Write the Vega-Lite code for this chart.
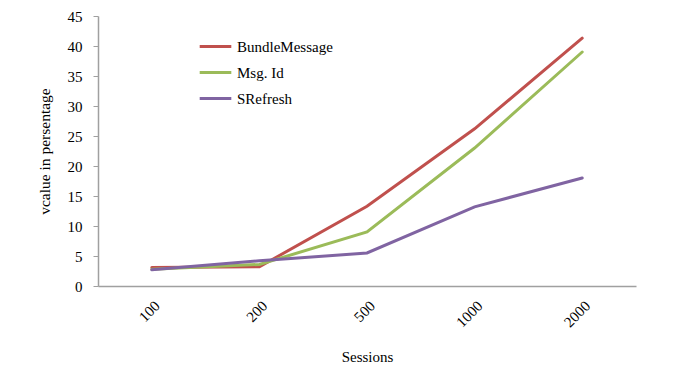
{
  "$schema": "https://vega.github.io/schema/vega-lite/v6.json",
  "width": 538,
  "height": 270,
  "autosize": {"type": "none"},
  "padding": {"left": 98, "top": 16, "right": 49, "bottom": 93},
  "background": "white",
  "config": {
    "view": {"stroke": null},
    "font": "Times New Roman, Liberation Serif, serif"
  },
  "data": {
    "values": [
      {"Sessions": "100", "series": "BundleMessage", "value": 3.1},
      {"Sessions": "200", "series": "BundleMessage", "value": 3.2},
      {"Sessions": "500", "series": "BundleMessage", "value": 13.3},
      {"Sessions": "1000", "series": "BundleMessage", "value": 26.2},
      {"Sessions": "2000", "series": "BundleMessage", "value": 41.3},
      {"Sessions": "100", "series": "Msg. Id", "value": 2.8},
      {"Sessions": "200", "series": "Msg. Id", "value": 3.6},
      {"Sessions": "500", "series": "Msg. Id", "value": 9.0},
      {"Sessions": "1000", "series": "Msg. Id", "value": 23.0},
      {"Sessions": "2000", "series": "Msg. Id", "value": 39.0},
      {"Sessions": "100", "series": "SRefresh", "value": 2.7},
      {"Sessions": "200", "series": "SRefresh", "value": 4.2},
      {"Sessions": "500", "series": "SRefresh", "value": 5.5},
      {"Sessions": "1000", "series": "SRefresh", "value": 13.2},
      {"Sessions": "2000", "series": "SRefresh", "value": 18.0}
    ]
  },
  "mark": {"type": "line", "strokeWidth": 3, "strokeCap": "round"},
  "encoding": {
    "x": {
      "field": "Sessions",
      "type": "ordinal",
      "sort": ["100", "200", "500", "1000", "2000"],
      "scale": {"type": "point", "padding": 0.5},
      "axis": {
        "title": "Sessions",
        "titleFont": "Times New Roman, Liberation Serif, serif",
        "titleFontWeight": "normal",
        "titleFontSize": 15,
        "titleColor": "black",
        "titlePadding": 20,
        "labelAngle": -45,
        "labelFont": "Times New Roman, Liberation Serif, serif",
        "labelFontSize": 15,
        "labelColor": "black",
        "labelPadding": 12,
        "ticks": false,
        "domainColor": "#a0a0a0",
        "domainWidth": 1.5,
        "grid": false
      }
    },
    "y": {
      "field": "value",
      "type": "quantitative",
      "scale": {"domain": [0, 45], "nice": false},
      "axis": {
        "title": "vcalue in persentage",
        "titleFont": "Times New Roman, Liberation Serif, serif",
        "titleFontWeight": "normal",
        "titleFontSize": 15.5,
        "titleColor": "black",
        "titlePadding": 15,
        "values": [0, 5, 10, 15, 20, 25, 30, 35, 40, 45],
        "labelFont": "Times New Roman, Liberation Serif, serif",
        "labelFontSize": 15,
        "labelColor": "black",
        "labelPadding": 11,
        "tickSize": 5,
        "tickColor": "#a0a0a0",
        "domainColor": "#a0a0a0",
        "domainWidth": 1.5,
        "grid": false
      }
    },
    "color": {
      "field": "series",
      "type": "nominal",
      "scale": {
        "domain": ["BundleMessage", "Msg. Id", "SRefresh"],
        "range": ["#C0504D", "#9BBB59", "#8064A2"]
      },
      "legend": {
        "title": null,
        "orient": "none",
        "legendX": 100,
        "legendY": 13,
        "symbolType": "stroke",
        "symbolStrokeWidth": 3,
        "symbolSize": 1000,
        "labelFont": "Times New Roman, Liberation Serif, serif",
        "labelFontSize": 15,
        "labelColor": "black",
        "labelOffset": 4,
        "rowPadding": -5
      }
    }
  }
}
